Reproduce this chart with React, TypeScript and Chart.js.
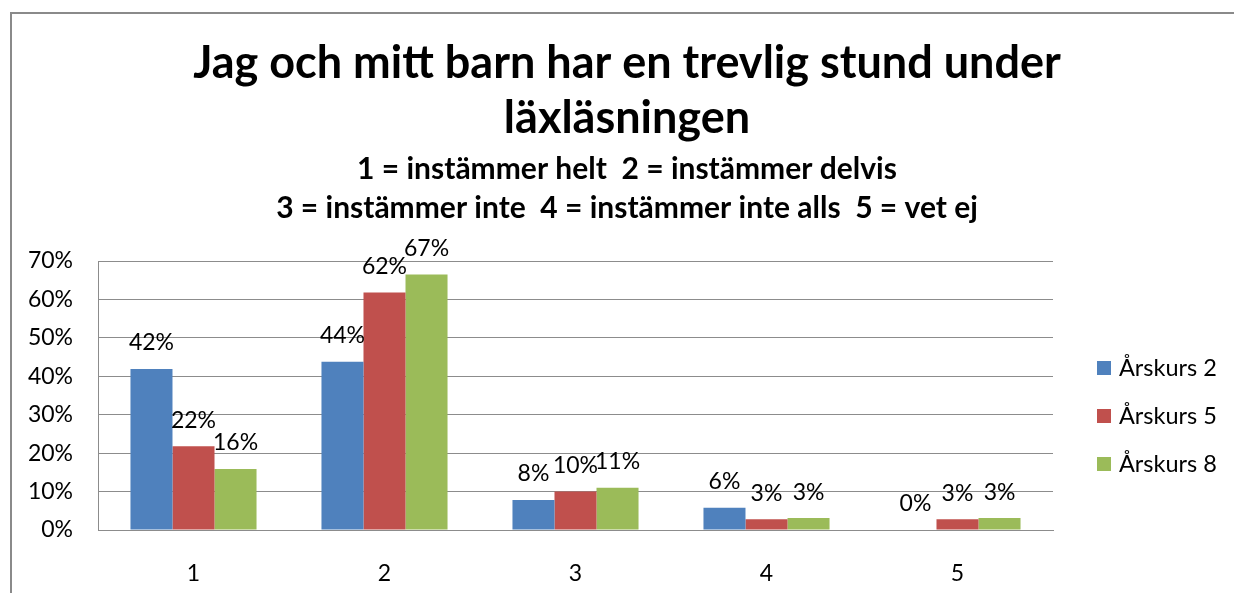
import React, { useEffect, useRef } from "react";
import { Chart, registerables } from "chart.js";

Chart.register(...registerables);

const categories = ["1", "2", "3", "4", "5"];
const seriesNames = ["Årskurs 2", "Årskurs 5", "Årskurs 8"];
const arskurs2 = [41.9, 43.8, 7.8, 5.8, 0];
const arskurs5 = [21.8, 61.8, 10.0, 2.8, 2.8];
const arskurs8 = [15.9, 66.5, 11.0, 3.1, 3.1];
const seriesColors = ["#4F81BD", "#C0504D", "#9BBB59"];
const yTicks = [0, 10, 20, 30, 40, 50, 60, 70];
const titleLines = ["Jag och mitt barn har en trevlig stund under", "läxläsningen"];
const subtitleLines = [
  "1 = instämmer helt  2 = instämmer delvis",
  "3 = instämmer inte  4 = instämmer inte alls  5 = vet ej",
];

const FONT = "Lato, 'Open Sans', sans-serif";
const CANVAS_W = 1230;
const CANVAS_H = 600;

const titlePlugin = {
  id: "customTitles",
  afterDraw(chart: any) {
    const ctx = chart.ctx;
    const cx = chart.width / 2;
    ctx.save();
    ctx.fillStyle = "#000";
    ctx.textAlign = "center";
    ctx.textBaseline = "alphabetic";
    ctx.font = `bold 45px ${FONT}`;
    ctx.fillText(titleLines[0], cx, 64);
    ctx.fillText(titleLines[1], cx, 119);
    ctx.font = `bold 30px ${FONT}`;
    ctx.fillText(subtitleLines[0], cx, 165);
    ctx.fillText(subtitleLines[1], cx, 204);
    ctx.restore();
  },
};

const labelPlugin = {
  id: "barValueLabels",
  afterDatasetsDraw(chart: any) {
    const ctx = chart.ctx;
    ctx.save();
    ctx.fillStyle = "#000";
    ctx.font = `23px ${FONT}`;
    ctx.textAlign = "center";
    ctx.textBaseline = "middle";
    chart.data.datasets.forEach((ds: any, di: number) => {
      const meta = chart.getDatasetMeta(di);
      meta.data.forEach((el: any, i: number) => {
        const v = ds.data[i];
        ctx.fillText(Math.round(v) + "%", el.x, el.y - 26);
      });
    });
    ctx.restore();
  },
};

const legendPlugin = {
  id: "sideLegend",
  afterDraw(chart: any) {
    const ctx = chart.ctx;
    ctx.save();
    ctx.font = `23.5px ${FONT}`;
    ctx.textBaseline = "middle";
    ctx.textAlign = "left";
    const area = chart.chartArea;
    const x0 = area.right + 44;
    chart.data.datasets.forEach((ds: any, i: number) => {
      const cy = 354 + i * 48;
      ctx.fillStyle = ds.backgroundColor;
      ctx.fillRect(x0, cy - 7, 14, 14);
      ctx.fillStyle = "#000";
      ctx.fillText(ds.label, x0 + 22, cy);
    });
    ctx.restore();
  },
};

export default function App() {
  const ref = useRef<HTMLCanvasElement>(null);

  useEffect(() => {
    if (!ref.current) return;
    const chart = new Chart(ref.current, {
      type: "bar",
      data: {
        labels: categories,
        datasets: [arskurs2, arskurs5, arskurs8].map((d, i) => ({
          label: seriesNames[i],
          data: d,
          backgroundColor: seriesColors[i],
          borderWidth: 0,
          categoryPercentage: 0.66,
          barPercentage: 1,
        })),
      },
      options: {
        responsive: false,
        animation: false,
        layout: { padding: { top: 247, right: 189, left: 0, bottom: 0 } },
        plugins: {
          legend: { display: false },
          title: { display: false },
          tooltip: { enabled: false },
        },
        scales: {
          x: {
            grid: { display: false },
            border: { display: true, color: "#8c8c8c", width: 1 },
            ticks: { color: "#000", font: { family: FONT, size: 23 }, padding: 22 },
            afterFit(scale: any) {
              scale.height = CANVAS_H - 516;
            },
          },
          y: {
            min: 0,
            max: 70,
            afterBuildTicks(scale: any) {
              scale.ticks = yTicks.map((v) => ({ value: v }));
            },
            grid: { color: "#8c8c8c", lineWidth: 1, drawTicks: false },
            border: { display: true, color: "#8c8c8c", width: 1 },
            ticks: {
              color: "#000",
              font: { family: FONT, size: 23 },
              padding: 25,
              callback: (v: any) => v + "%",
            },
            afterFit(scale: any) {
              scale.width = 86;
            },
          },
        },
      },
      plugins: [titlePlugin, labelPlugin, legendPlugin],
    });
    return () => chart.destroy();
  }, []);

  return (
    <div
      style={{
        position: "fixed",
        left: 0,
        top: 0,
        width: 1234,
        height: 593,
        overflow: "hidden",
        background: "#fff",
      }}
    >
      <div
        style={{
          position: "absolute",
          left: 10,
          top: 12,
          width: 1400,
          height: 800,
          borderTop: "2px solid #8a8a8a",
          borderLeft: "2px solid #8a8a8a",
        }}
      >
        <canvas ref={ref} width={CANVAS_W} height={CANVAS_H} style={{ display: "block" }} />
      </div>
    </div>
  );
}
